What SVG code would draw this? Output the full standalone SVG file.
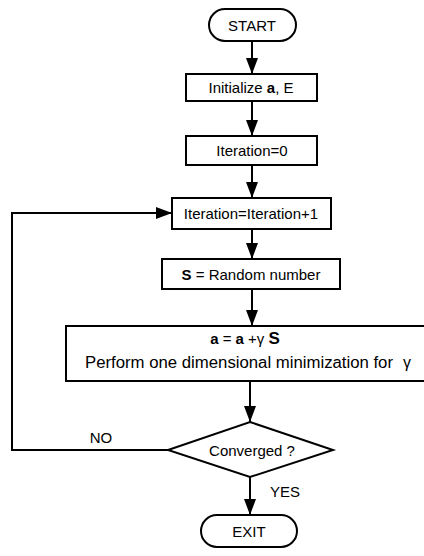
<svg xmlns="http://www.w3.org/2000/svg" width="424" height="556" viewBox="0 0 424 556">
<defs>
<marker id="ah" viewBox="0 0 16 12" refX="16" refY="6" markerWidth="16" markerHeight="12" markerUnits="userSpaceOnUse" orient="auto">
<path d="M0,0 L16,6 L0,12 Z" fill="#000"/>
</marker>
</defs>
<style>
.s{fill:#fff;stroke:#000;stroke-width:2}
.t{font-family:"Liberation Sans",Arial,sans-serif;font-size:15px;fill:#000;text-anchor:middle}
.c{fill:none;stroke:#000;stroke-width:2}
</style>
<rect width="424" height="556" fill="#fff"/>
<g id="connectors">
<path class="c" d="M252,41 V74" marker-end="url(#ah)"/>
<path class="c" d="M252,101 V136" marker-end="url(#ah)"/>
<path class="c" d="M252,165 V198" marker-end="url(#ah)"/>
<path class="c" d="M252,229 V259" marker-end="url(#ah)"/>
<path class="c" d="M252,289 V326" marker-end="url(#ah)"/>
<path class="c" d="M250,381 V422" marker-end="url(#ah)"/>
<path class="c" d="M250,477 V515" marker-end="url(#ah)"/>
<path class="c" d="M168,450 H12 V213 H172" marker-end="url(#ah)"/>
<text class="t" x="101" y="443">NO</text>
<text class="t" x="285" y="497">YES</text>
</g>
<g id="start">
<rect class="s" x="209" y="9" width="87" height="32" rx="16"/>
<text class="t" x="252" y="31">START</text>
</g>
<g id="init">
<rect class="s" x="186" y="74" width="131" height="27"/>
<text class="t" x="251" y="93">Initialize <tspan font-weight="bold">a</tspan>, E</text>
</g>
<g id="iter0">
<rect class="s" x="186" y="136" width="131" height="29"/>
<text class="t" x="252" y="156">Iteration=0</text>
</g>
<g id="iterinc">
<rect class="s" x="172" y="198" width="159" height="31"/>
<text class="t" x="251" y="219">Iteration=Iteration+1</text>
</g>
<g id="random">
<rect class="s" x="162" y="259" width="178" height="30"/>
<text class="t" x="251" y="280"><tspan font-weight="bold">S</tspan>  = Random number</text>
</g>
<g id="update">
<rect class="s" x="66" y="326" width="366" height="55"/>
<text class="t" x="245" y="344"><tspan font-weight="bold">a</tspan> = <tspan font-weight="bold">a</tspan> +γ <tspan font-weight="bold" font-size="17">S</tspan></text>
<text class="t" x="85" y="368" style="text-anchor:start;font-size:16px" textLength="308" lengthAdjust="spacingAndGlyphs">Perform one dimensional minimization for</text>
<text class="t" x="407" y="368" style="font-size:16px">γ</text>
</g>
<g id="converged">
<polygon class="s" points="250,422 333,450 250,477 168,450"/>
<text class="t" x="252" y="456">Converged ?</text>
</g>
<g id="exit">
<rect class="s" x="201" y="515" width="96" height="32" rx="16"/>
<text class="t" x="249" y="537">EXIT</text>
</g>
</svg>
